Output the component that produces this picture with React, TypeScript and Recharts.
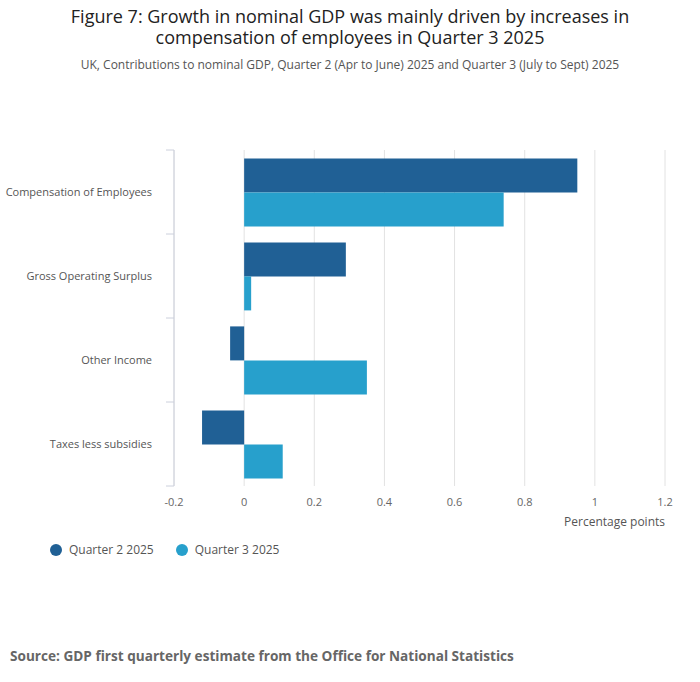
import { BarChart, Bar, XAxis, YAxis, CartesianGrid } from "recharts";

const categories = [
  "Compensation of Employees",
  "Gross Operating Surplus",
  "Other Income",
  "Taxes less subsidies",
];
const q2 = [0.95, 0.29, -0.04, -0.12];
const q3 = [0.74, 0.02, 0.35, 0.11];
const xTicks = [-0.2, 0, 0.2, 0.4, 0.6, 0.8, 1, 1.2];

const Q2_COLOR = "#206095";
const Q3_COLOR = "#27a0cc";
const FONT = "'Open Sans', sans-serif";

const CategoryTick = (props: any) => {
  const { x, y, payload, index } = props;
  const half = 42;
  return (
    <g>
      <line x1={166} x2={174} y1={y - half} y2={y - half} stroke="#ccd0dc" />
      {index === categories.length - 1 && (
        <line x1={166} x2={174} y1={y + half} y2={y + half} stroke="#ccd0dc" />
      )}
      <text x={x - 14} y={y} dy={4} textAnchor="end" fontSize={11} fill="#555" fontFamily={FONT}>
        {payload.value}
      </text>
    </g>
  );
};

export default function App() {
  const data = categories.map((name, i) => ({ name, q2: q2[i], q3: q3[i] }));

  return (
    <div style={{ position: "absolute", top: 0, left: 0, width: 700, height: 682, background: "#fff", fontFamily: FONT }}>
      <div style={{ position: "absolute", top: 6, width: 700, textAlign: "center", fontSize: 18, color: "#222", lineHeight: "21px" }}>
        Figure 7: Growth in nominal GDP was mainly driven by increases in
        <br />
        compensation of employees in Quarter 3 2025
      </div>
      <div style={{ position: "absolute", top: 56, width: 700, textAlign: "center", fontSize: 12, color: "#555" }}>
        UK, Contributions to nominal GDP, Quarter 2 (Apr to June) 2025 and Quarter 3 (July to Sept) 2025
      </div>
      <div style={{ position: "absolute", top: 0, left: 0 }}>
        <BarChart
          width={700}
          height={576}
          data={data}
          layout="vertical"
          margin={{ top: 150, right: 35, bottom: 60, left: 0 }}
          barCategoryGap="10%"
          barGap={0}
        >
          <CartesianGrid horizontal={false} stroke="#e2e2e2" />
          <XAxis
            type="number"
            domain={[-0.2, 1.2]}
            ticks={xTicks}
            tickFormatter={(v: number) => String(Math.round(v * 10) / 10)}
            axisLine={false}
            tickLine={false}
            tick={{ fontSize: 11, fill: "#666", fontFamily: FONT }}
            tickMargin={6}
            height={30}
          />
          <YAxis
            type="category"
            dataKey="name"
            width={174}
            axisLine={{ stroke: "#ccd0dc" }}
            tickLine={false}
            tick={CategoryTick}
          />
          <Bar dataKey="q2" fill={Q2_COLOR} isAnimationActive={false} />
          <Bar dataKey="q3" fill={Q3_COLOR} isAnimationActive={false} />
        </BarChart>
      </div>
      <div style={{ position: "absolute", top: 513, right: 35, fontSize: 12, color: "#555" }}>Percentage points</div>
      <div style={{ position: "absolute", top: 541, left: 50, display: "flex", alignItems: "center", fontSize: 12, color: "#555" }}>
        <span style={{ width: 12, height: 12, borderRadius: 6, background: Q2_COLOR, display: "inline-block", marginRight: 7 }} />
        Quarter 2 2025
        <span style={{ width: 12, height: 12, borderRadius: 6, background: Q3_COLOR, display: "inline-block", marginLeft: 22, marginRight: 7 }} />
        Quarter 3 2025
      </div>
      <div style={{ position: "absolute", top: 646, left: 10, fontSize: 13.6, fontWeight: 700, color: "#666" }}>
        Source: GDP first quarterly estimate from the Office for National Statistics
      </div>
    </div>
  );
}
